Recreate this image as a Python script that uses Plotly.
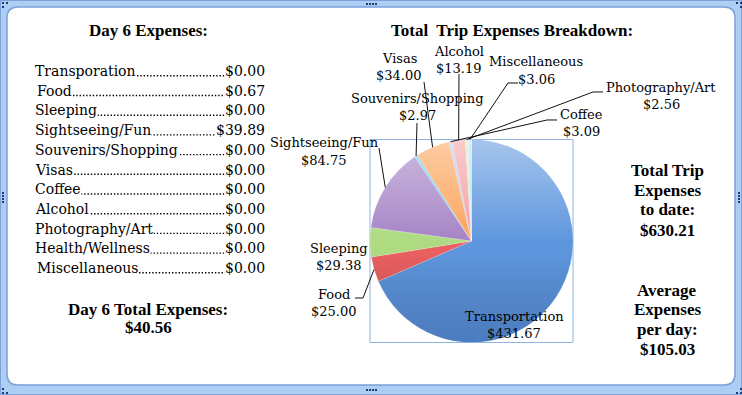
import base64
import numpy as np
import plotly.graph_objects as go

# ---------------- data ----------------
day_categories = ["Transporation", "Food", "Sleeping", "Sightseeing/Fun",
                  "Souvenirs/Shopping", "Visas", "Coffee", "Alcohol",
                  "Photography/Art", "Health/Wellness", "Miscellaneous"]
day_values = [0.00, 0.67, 0.00, 39.89, 0.00, 0.00, 0.00, 0.00, 0.00, 0.00, 0.00]
day_total = 40.56

trip_categories = ["Transportation", "Food", "Sleeping", "Sightseeing/Fun",
                   "Souvenirs/Shopping", "Visas", "Coffee", "Alcohol",
                   "Photography/Art", "Health/Wellness", "Miscellaneous"]
trip_values = [431.67, 25.00, 29.38, 84.75, 2.97, 34.00, 3.09, 13.19, 2.56, 0.54, 3.06]
trip_total = 630.21
avg_per_day = 105.03

slice_colors = ["#5E96DE", "#EA6060", "#AEDB82", "#A584C6", "#6FCDEA", "#FCA45C",
                "#B0C8F0", "#F6A0A3", "#CDEAAE", "#D2C0E8", "#ADE3F1"]

# ---------------- layout helpers ----------------
W, H = 742, 395
def px(x): return x / W
def py(y): return 1 - y / H

REG = "DejaVu Serif"
BOLD = "Liberation Serif"

annotations = []
shapes = []
images = []

def text(t, x, y, size=14, family=REG, bold=False, xanchor="center", bg=None, color="#000"):
    a = dict(text=("<b>%s</b>" % t) if bold else t, x=px(x), y=py(y), xref="paper", yref="paper",
             showarrow=False, xanchor=xanchor, yanchor="middle",
             font=dict(family=family, size=size, color=color), borderpad=0)
    if bg:
        a["bgcolor"] = bg
    annotations.append(a)

def line(points, color="#000", width=1, dash="solid"):
    d = "M " + " L ".join("%f,%f" % (px(a), py(b)) for a, b in points)
    shapes.append(dict(type="path", path=d, xref="paper", yref="paper",
                       line=dict(color=color, width=width, dash=dash), layer="above"))

# ---------------- frame ----------------
def rounded(x0, y0, x1, y1, r):
    return ("M %f,%f L %f,%f Q %f,%f %f,%f L %f,%f Q %f,%f %f,%f L %f,%f Q %f,%f %f,%f "
            "L %f,%f Q %f,%f %f,%f Z") % (
        px(x0 + r), py(y0), px(x1 - r), py(y0), px(x1), py(y0), px(x1), py(y0 + r),
        px(x1), py(y1 - r), px(x1), py(y1), px(x1 - r), py(y1),
        px(x0 + r), py(y1), px(x0), py(y1), px(x0), py(y1 - r),
        px(x0), py(y0 + r), px(x0), py(y0), px(x0 + r), py(y0))

outer = "M %f,%f L %f,%f L %f,%f L %f,%f Z " % (px(0), py(0), px(W), py(0), px(W), py(H), px(0), py(H))
shapes.append(dict(type="path", path=outer + rounded(7, 7, 735, 385, 11), xref="paper", yref="paper",
                   fillcolor="#AECDF3", fillrule="evenodd", line=dict(width=0), layer="above"))
shapes.append(dict(type="rect", xref="paper", yref="paper", x0=px(0.5), y0=py(394.5),
                   x1=px(741.5), y1=py(0.5), line=dict(color="#7EA2DC", width=1), layer="above"))
shapes.append(dict(type="path", path=rounded(7, 7, 735, 385, 11), xref="paper", yref="paper",
                   line=dict(color="#7C9FDA", width=1.5), layer="above"))
# selection handles
for hx, hy in [(2, 2), (6, 2), (2, 6), (736, 2), (740, 2), (740, 6),
               (2, 388), (2, 392), (6, 392), (736, 392), (740, 392), (740, 388),
               (366, 3), (369, 3), (372, 3), (375, 3),
               (366, 389), (369, 389), (372, 389), (375, 389),
               (2, 192), (2, 195), (2, 198), (2, 201),
               (738, 192), (738, 195), (738, 198), (738, 201)]:
    shapes.append(dict(type="rect", xref="paper", yref="paper", x0=px(hx), y0=py(hy + 2),
                       x1=px(hx + 2), y1=py(hy), line=dict(width=0), fillcolor="#1E3C78",
                       layer="above"))

# pie plot-area border
PX0, PX1, PY0, PY1 = 370, 573, 139.5, 342.5
shapes.append(dict(type="rect", xref="paper", yref="paper", x0=px(PX0), y0=py(PY1),
                   x1=px(PX1), y1=py(PY0), line=dict(color="#8DB3E2", width=1), layer="below"))

# ---------------- left block ----------------
text("Day 6 Expenses:", 148, 31, size=17, family=BOLD, bold=True)
row_y0, row_dy = 71, 19.7
for i, (cat, val) in enumerate(zip(day_categories, day_values)):
    y = row_y0 + i * row_dy
    lx = 36 if cat in ("Food", "Miscellaneous") else 34
    line([(lx + 4, y + 4.8), (262, y + 4.8)], color="#000", width=1.4, dash="1.4px,1.9px")
    text(cat, lx, y, size=14, xanchor="left", bg="#FFFFFF")
    text("$%.2f" % val, 266, y, size=14, xanchor="right", bg="#FFFFFF")

text("Day 6 Total Expenses:", 148, 309, size=17, family=BOLD, bold=True)
text("$%.2f" % day_total, 148, 327, size=17, family=BOLD, bold=True)

# ---------------- right block ----------------
for i, t in enumerate(["Total Trip", "Expenses", "to date:", "$%.2f" % trip_total]):
    text(t, 667, 170 + i * 20, size=17, family=BOLD, bold=True)
for i, t in enumerate(["Average", "Expenses", "per day:", "$%.2f" % avg_per_day]):
    text(t, 667, 290 + i * 19.7, size=17, family=BOLD, bold=True)

text("Total\u00a0 Trip Expenses Breakdown:", 512, 31, size=17, family=BOLD, bold=True)

# ---------------- pie ----------------
CX, CY = (PX0 + PX1) / 2, (PY0 + PY1) / 2
R = (PY1 - PY0) / 2
vals = np.array(trip_values)
cum = np.cumsum(vals) / vals.sum() * 2 * np.pi
mid = cum - vals / vals.sum() * np.pi
edge = {c: (CX + R * np.sin(a), CY - R * np.cos(a)) for c, a in zip(trip_categories, mid)}

# shading overlay (light top, darker bottom)
def svg_uri(svg):
    return "data:image/svg+xml;base64," + base64.b64encode(svg.encode()).decode()

shade_svg = ('<svg xmlns="http://www.w3.org/2000/svg" width="200" height="200" viewBox="0 0 200 200">'
             '<defs><linearGradient id="g" x1="0" y1="0" x2="0" y2="1">'
             '<stop offset="0" stop-color="#fff" stop-opacity="0.45"/>'
             '<stop offset="0.5" stop-color="#fff" stop-opacity="0"/>'
             '<stop offset="0.55" stop-color="#000" stop-opacity="0"/>'
             '<stop offset="1" stop-color="#102a60" stop-opacity="0.24"/>'
             '</linearGradient></defs><circle cx="100" cy="100" r="100" fill="url(#g)"/></svg>')
images.append(dict(source=svg_uri(shade_svg), xref="paper", yref="paper",
                   x=px(CX - R), y=py(CY - R), sizex=2 * R / W, sizey=2 * R / H,
                   xanchor="left", yanchor="top", sizing="stretch", layer="above"))

# label positions (name line centre); leader path starts (before slice point)
label_pos = {
    "Transportation": (514, 316, None),
    "Food": (334, 294, [(355, 298), (363, 298)]),
    "Sleeping": (339, 248, None),
    "Sightseeing/Fun": (324, 143, [(379, 148)]),
    "Souvenirs/Shopping": (417, 98, [(417, 123)]),
    "Visas": (399, 58, [(424, 82)]),
    "Coffee": (581, 114, [(557, 120), (547, 120)]),
    "Alcohol": (459, 51, [(459, 74)]),
    "Photography/Art": (661, 87, [(603, 92), (593, 92)]),
    "Miscellaneous": (536, 62, [(518, 83), (508, 83)]),
}

fig = go.Figure(go.Pie(
    labels=trip_categories, values=trip_values, sort=False, direction="clockwise",
    rotation=0, textinfo="none", hoverinfo="label+value",
    marker=dict(colors=slice_colors, line=dict(color="rgba(255,255,255,0.35)", width=0.5)),
    domain=dict(x=[px(PX0), px(PX1)], y=[py(PY1), py(PY0)]),
    showlegend=False,
))

for cat, val in zip(trip_categories, trip_values):
    if cat not in label_pos:
        continue
    lx, ly, lead = label_pos[cat]
    text(cat, lx, ly, size=13)
    text("$%.2f" % val, lx, ly + 17.5, size=13)
    if lead:
        line(lead + [edge[cat]], color="#111", width=1)

fig.update_layout(
    width=W, height=H, margin=dict(l=0, r=0, t=0, b=0),
    paper_bgcolor="#FFFFFF", plot_bgcolor="#FFFFFF",
    shapes=shapes, annotations=annotations, images=images,
)
html = fig.to_html(include_plotlyjs=True, full_html=True, config={"displayModeBar": False})
html = html.replace("<body>", '<body style="margin:0;padding:0;overflow:hidden">', 1)
with open("out.html", "w", encoding="utf-8") as f:
    f.write(html)
